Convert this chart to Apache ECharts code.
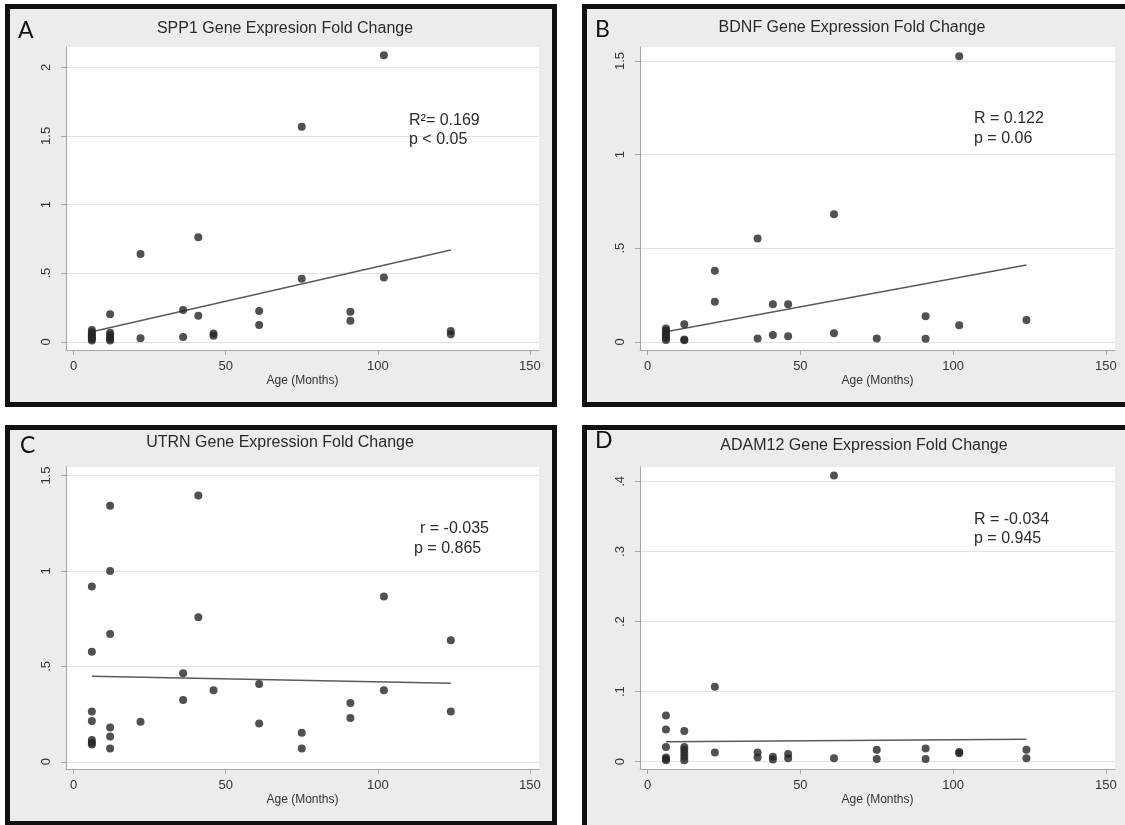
<!DOCTYPE html>
<html>
<head>
<meta charset="utf-8">
<script src="https://cdn.jsdelivr.net/npm/echarts@6/dist/echarts.min.js"></script>
<style>
html,body{margin:0;padding:0;background:#fff;}
#chart{width:1125px;height:825px;}
</style>
</head>
<body>
<div id="chart"></div>
<script>
// ---------- DATA ----------
const panelLetters = ['A', 'B', 'C', 'D'];
const panelTitles = [
  'SPP1 Gene Expresion Fold Change',
  'BDNF Gene Expression Fold Change',
  'UTRN Gene Expression Fold Change',
  'ADAM12 Gene Expression Fold Change'
];
const statLine1 = ['R\u00b2= 0.169', 'R = 0.122', 'r = -0.035', 'R = -0.034'];
const statLine2 = ['p < 0.05', 'p = 0.06', 'p = 0.865', 'p = 0.945'];
const xAxisName = 'Age (Months)';
const xTicks = [0, 50, 100, 150];
const yTicksA = [0, 0.5, 1, 1.5, 2];
const yTicksB = [0, 0.5, 1, 1.5];
const yTicksC = [0, 0.5, 1, 1.5];
const yTicksD = [0, 0.1, 0.2, 0.3, 0.4];
const yTickLabelsA = ['0', '.5', '1', '1.5', '2'];
const yTickLabelsB = ['0', '.5', '1', '1.5'];
const yTickLabelsC = ['0', '.5', '1', '1.5'];
const yTickLabelsD = ['0', '.1', '.2', '.3', '.4'];

// SPP1 (panel A)
const spp1Age  = [6,6,6,6,6,6,6, 12,12,12,12,12,12, 22,22, 36,36, 41,41, 46,46, 61,61, 75,75, 91,91, 102,102, 124,124];
const spp1Fold = [0.085,0.07,0.055,0.04,0.03,0.02,0.01, 0.2,0.065,0.05,0.035,0.02,0.01, 0.64,0.025, 0.231,0.034, 0.761,0.19, 0.061,0.044, 0.224,0.122, 1.567,0.46, 0.219,0.153, 2.087,0.469, 0.078,0.054];
const spp1FitAge = [6, 124];
const spp1FitFold = [0.073, 0.668];

// BDNF (panel B)
const bdnfAge  = [6,6,6,6,6,6,6, 12,12,12, 22,22, 36,36, 41,41, 46,46, 61,61, 75, 91,91, 102,102, 124];
const bdnfFold = [0.071,0.06,0.05,0.04,0.03,0.02,0.009, 0.093,0.012,0.008, 0.379,0.214, 0.552,0.018, 0.201,0.036, 0.201,0.03, 0.682,0.045, 0.018, 0.137,0.016, 1.525,0.088, 0.116];
const bdnfFitAge = [6, 124];
const bdnfFitFold = [0.053, 0.41];

// UTRN (panel C)
const utrnAge  = [6,6,6,6,6,6,6, 12,12,12,12,12,12, 22, 36,36, 41,41, 46, 61,61, 75,75, 91,91, 102,102, 124,124];
const utrnFold = [0.919,0.576,0.263,0.214,0.114,0.1,0.091, 1.342,1.0,0.669,0.179,0.133,0.07, 0.21, 0.464,0.324, 1.395,0.758, 0.375, 0.408,0.201, 0.152,0.07, 0.308,0.229, 0.866,0.375, 0.637,0.264];
const utrnFitAge = [6, 124];
const utrnFitFold = [0.448, 0.411];

// ADAM12 (panel D)
const adamAge  = [6,6,6,6,6,6, 12,12,12,12,12,12, 22,22, 36,36, 41,41, 46,46, 61,61, 75,75, 91,91, 102,102, 124,124];
const adamFold = [0.066,0.046,0.021,0.006,0.004,0.002, 0.044,0.021,0.017,0.012,0.007,0.002, 0.107,0.013, 0.013,0.006, 0.007,0.003, 0.011,0.005, 0.4086,0.005, 0.017,0.004, 0.019,0.004, 0.014,0.012, 0.017,0.005];
const adamFitAge = [6, 124];
const adamFitFold = [0.0286, 0.032];

// ---------- LAYOUT / STYLE ----------
const zip = (a, b) => a.map((v, i) => [v, b[i]]);
const scatterData = [zip(spp1Age, spp1Fold), zip(bdnfAge, bdnfFold), zip(utrnAge, utrnFold), zip(adamAge, adamFold)];
const fitData = [zip(spp1FitAge, spp1FitFold), zip(bdnfFitAge, bdnfFitFold), zip(utrnFitAge, utrnFitFold), zip(adamFitAge, adamFitFold)];
const yTicks = [yTicksA, yTicksB, yTicksC, yTicksD];
const yTickLabels = [yTickLabelsA, yTickLabelsB, yTickLabelsC, yTickLabelsD];
const yRanges = [[-0.06, 2.148], [-0.044, 1.575], [-0.038, 1.545], [-0.0104, 0.4206]];
const grids = [
  {left: 66, top: 47, width: 473, height: 303},
  {left: 640, top: 47, width: 475, height: 303},
  {left: 66, top: 467, width: 473, height: 302},
  {left: 640, top: 467, width: 475, height: 302}
];
const panels = [
  {x: 7.5, y: 6.5, w: 547, h: 398},
  {x: 584.5, y: 6.5, w: 560, h: 398},
  {x: 7.5, y: 427.5, w: 547, h: 396},
  {x: 584.5, y: 427.5, w: 560, h: 420}
];
const titlePos = [[285, 29], [852, 28], [280, 443], [864, 446]];
const letterPos = [[18, 31], [595, 30], [20, 446], [595, 441]];
const statPos = [[409, 121, 140], [974, 119, 139], [420, 529, 549], [974, 520, 539]];
const statPos2x = [409, 974, 414, 974];

const FONT = '"Liberation Sans", Arial, sans-serif';
const axisGray = '#a6a6a6';
const textCol = '#333333';
const dotCol = '#262626';

const option = {
  backgroundColor: '#ffffff',
  animation: false,
  grid: grids.map(g => Object.assign({show: true, backgroundColor: '#ffffff', borderWidth: 0, containLabel: false}, g)),
  xAxis: grids.map((g, i) => ({
    type: 'value', gridIndex: i, min: -2.5, max: 153,
    name: xAxisName, nameLocation: 'middle', nameGap: 25,
    nameTextStyle: {fontFamily: FONT, fontSize: 12, color: textCol},
    axisLine: {show: true, onZero: false, lineStyle: {color: axisGray, width: 1}},
    axisTick: {show: true, length: 5, customValues: xTicks, lineStyle: {color: axisGray}},
    axisLabel: {show: true, margin: 10, customValues: xTicks, fontFamily: FONT, fontSize: 13, color: textCol},
    splitLine: {show: false}
  })),
  yAxis: grids.map((g, i) => ({
    type: 'value', gridIndex: i, min: yRanges[i][0], max: yRanges[i][1],
    axisLine: {show: true, onZero: false, lineStyle: {color: axisGray, width: 1}},
    axisTick: {show: true, length: 5, customValues: yTicks[i], lineStyle: {color: axisGray}},
    axisLabel: {show: true, rotate: 90, margin: 13, customValues: yTicks[i], fontFamily: FONT, fontSize: 13, color: textCol,
      formatter: (v) => { const k = yTicks[i].findIndex(t => Math.abs(t - v) < 1e-9); return k >= 0 ? yTickLabels[i][k] : ''; }},
    splitLine: {show: true, lineStyle: {color: '#e2e2e2', width: 1}}
  })),
  series: [].concat(
    scatterData.map((d, i) => ({
      type: 'scatter', xAxisIndex: i, yAxisIndex: i, data: d, symbolSize: 8, clip: false,
      itemStyle: {color: dotCol}, z: 3
    })),
    fitData.map((d, i) => ({
      type: 'line', xAxisIndex: i, yAxisIndex: i, data: d, symbol: 'none', clip: false,
      lineStyle: {color: '#5a5a5a', width: 1.5}, z: 2
    }))
  ),
  graphic: [].concat(
    panels.map(p => ({
      type: 'rect', z: -10, silent: true,
      shape: {x: p.x, y: p.y, width: p.w, height: p.h},
      style: {fill: '#ececec', stroke: '#111111', lineWidth: 5}
    })),
    panelTitles.map((t, i) => ({
      type: 'text', z: 10, x: titlePos[i][0], y: titlePos[i][1],
      style: {text: t, fill: '#2a2a2a', font: '16px ' + FONT, textAlign: 'center', textVerticalAlign: 'middle'}
    })),
    panelLetters.map((t, i) => ({
      type: 'text', z: 10, x: letterPos[i][0], y: letterPos[i][1],
      style: {text: t, fill: '#111111', font: '23px Lato, "Open Sans", sans-serif', textAlign: 'left', textVerticalAlign: 'middle'}
    })),
    statLine1.map((t, i) => ({
      type: 'text', z: 10, x: statPos[i][0], y: statPos[i][1],
      style: {text: t, fill: '#2a2a2a', font: '16px ' + FONT, textAlign: 'left', textVerticalAlign: 'middle'}
    })),
    statLine2.map((t, i) => ({
      type: 'text', z: 10, x: statPos2x[i], y: statPos[i][2],
      style: {text: t, fill: '#2a2a2a', font: '16px ' + FONT, textAlign: 'left', textVerticalAlign: 'middle'}
    }))
  )
};

const chart = echarts.init(document.getElementById('chart'), null, {renderer: 'canvas'});
chart.setOption(option);
</script>
</body>
</html>
